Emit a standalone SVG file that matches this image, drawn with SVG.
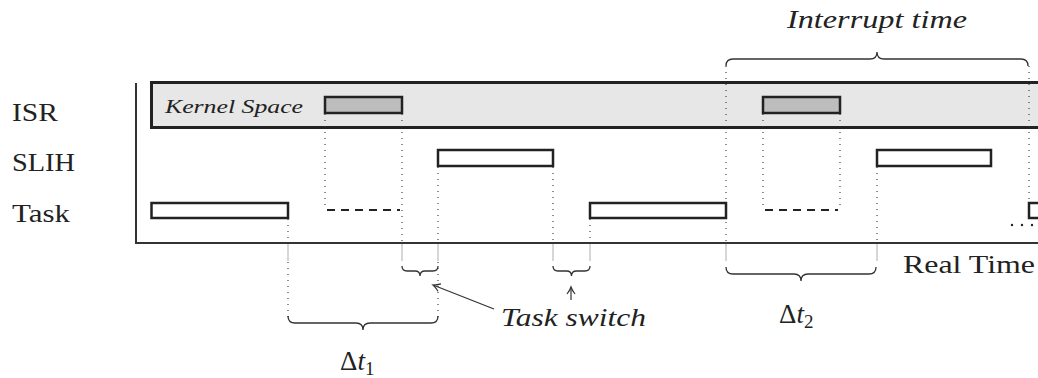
<svg xmlns="http://www.w3.org/2000/svg" width="1038" height="378" viewBox="0 0 1038 378">
  <style>
    .it { font-style: italic; }
    .box { fill: #fff; stroke: #222; stroke-width: 2.5; }
    .isr { fill: #bdbdbd; stroke: #222; stroke-width: 2.5; }
    .dot { stroke: #333; stroke-width: 1.1; stroke-dasharray: 1 5; fill: none; }
    .tick { stroke: #bbb; stroke-width: 1.2; fill: none; }
    .dash { stroke: #222; stroke-width: 2; stroke-dasharray: 8 6; fill: none; }
    .brace { stroke: #333; stroke-width: 1.3; fill: none; }
    .axis { stroke: #333; stroke-width: 2; fill: none; }
    .arr { stroke: #333; stroke-width: 1.2; fill: none; }
  </style>
  <defs>
    <marker id="head" markerWidth="10" markerHeight="10" refX="8" refY="5" orient="auto" markerUnits="userSpaceOnUse">
      <path d="M1,1 Q5,4 8,5 Q5,6 1,9" fill="none" stroke="#333" stroke-width="1.2"/>
    </marker>
  </defs>

  <g font-family="Liberation Serif, serif" fill="#222">
  <!-- kernel space band -->
  <g id="kernel">
    <rect x="151.5" y="82.5" width="900" height="45" fill="#e6e7e6" stroke="#222" stroke-width="3"/>
    <text class="it" x="165" y="113" font-size="19" textLength="138" lengthAdjust="spacingAndGlyphs">Kernel Space</text>
  </g>

  <!-- row labels -->
  <g id="row-labels">
    <text x="12" y="121" font-size="26" textLength="46" lengthAdjust="spacingAndGlyphs">ISR</text>
    <text x="12" y="171" font-size="26" textLength="63" lengthAdjust="spacingAndGlyphs">SLIH</text>
    <text x="12" y="222" font-size="26" textLength="58" lengthAdjust="spacingAndGlyphs">Task</text>
  </g>

  <!-- guide lines -->
  <g id="connectors">
    <!-- dotted projections -->
    <path class="dot" d="M325,114 V209 M402,114 V243 M438,167 V243 M553,167 V243 M590,219 V243 M726,66 V243 M763,114 V209 M840,114 V209 M877,167 V243 M1029,66 V202 M288,219 V243"/>
    <path class="dot" d="M288,262 V318 M438,262 V318"/>
    <!-- light ticks below the time axis -->
    <path class="tick" d="M288,243 V261 M402,243 V261 M438,243 V261 M553,243 V261 M590,243 V261 M726,243 V261 M877,243 V261"/>
    <!-- idle (dashed) task segments -->
    <path class="dash" d="M327,210 H400 M765,210 H838"/>
    <!-- braces -->
    <path class="brace" d="M402,266 q0,5 5,5 h8 q5,0 5,5 q0,-5 5,-5 h8 q5,0 5,-5"/>
    <path class="brace" d="M553,266 q0,5 5,5 h8.5 q5,0 5,5 q0,-5 5,-5 h8.5 q5,0 5,-5"/>
    <path class="brace" d="M288,316 q0,7 7,7 h61 q7,0 7,7 q0,-7 7,-7 h61 q7,0 7,-7"/>
    <path class="brace" d="M726,267 q0,7 7,7 h61 q7,0 7,7 q0,-7 7,-7 h61 q7,0 7,-7"/>
    <path class="brace" d="M726,66 q0,-7 7,-7 h137 q7,0 7,-7 q0,7 7,7 h137 q7,0 7,7"/>
    <!-- task switch pointers -->
    <path class="arr" d="M494,309 L433,285" marker-end="url(#head)"/>
    <path class="arr" d="M571,300 L571,287" marker-end="url(#head)"/>
    <!-- continuation dots -->
    <circle cx="1012" cy="225" r="1.2" fill="#222"/>
    <circle cx="1022" cy="225" r="1.2" fill="#222"/>
    <circle cx="1032" cy="225" r="1.2" fill="#222"/>
  </g>

  <!-- axes -->
  <g id="axes">
    <path class="axis" d="M136,83 V243 H1040"/>
  </g>

  <!-- ISR bursts -->
  <g id="isr-1"><rect class="isr" x="325" y="97" width="77" height="16"/></g>
  <g id="isr-2"><rect class="isr" x="763" y="97" width="77" height="16"/></g>

  <!-- SLIH runs -->
  <g id="slih-1"><rect class="box" x="438" y="150" width="115" height="16"/></g>
  <g id="slih-2"><rect class="box" x="877" y="150" width="114" height="16"/></g>

  <!-- task runs -->
  <g id="task-1"><rect class="box" x="151.5" y="203" width="136.5" height="15"/></g>
  <g id="task-2"><rect class="box" x="590" y="203" width="136" height="15"/></g>
  <g id="task-3"><rect class="box" x="1029" y="203" width="20" height="15"/></g>

  <!-- annotations -->
  <g id="annotations">
    <text class="it" x="787" y="28" font-size="26" textLength="180" lengthAdjust="spacingAndGlyphs">Interrupt time</text>
    <text x="903" y="273" font-size="26" textLength="132" lengthAdjust="spacingAndGlyphs">Real Time</text>
    <text class="it" x="501" y="326" font-size="26" textLength="145" lengthAdjust="spacingAndGlyphs">Task switch</text>
    <text x="340" y="370" font-size="27">Δ<tspan class="it">t</tspan><tspan font-size="19" dy="5">1</tspan></text>
    <text x="779" y="323" font-size="27">Δ<tspan class="it">t</tspan><tspan font-size="19" dy="5">2</tspan></text>
  </g>
  </g>
</svg>
